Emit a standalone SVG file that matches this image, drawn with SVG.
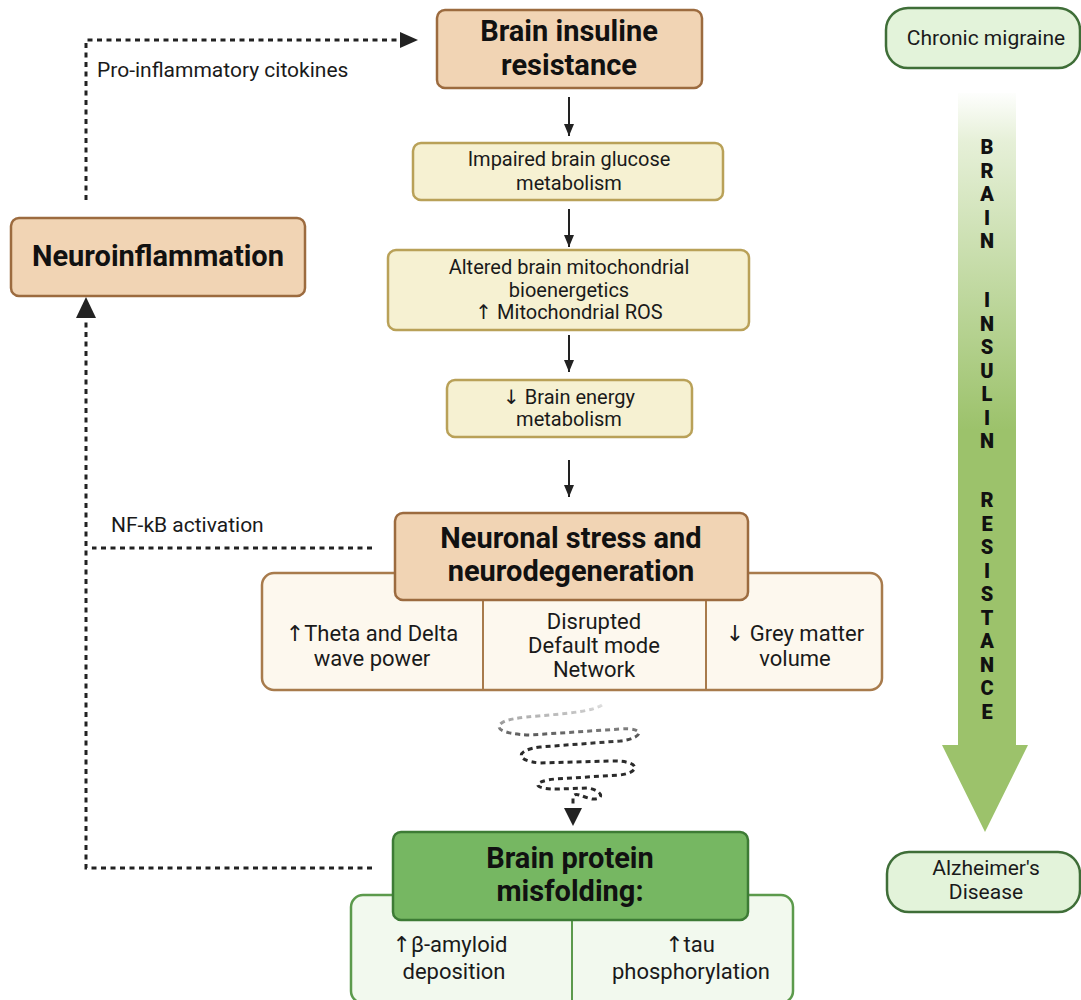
<svg xmlns="http://www.w3.org/2000/svg" width="1081" height="1000" viewBox="0 0 1081 1000">
<style>
  .title{font-family:Roboto,"Liberation Sans",sans-serif;font-weight:700;font-size:29px;fill:#111;text-anchor:middle}
  .body{font-family:Roboto,"Liberation Sans",sans-serif;font-size:20px;fill:#1a1a1a;text-anchor:middle}
  .sub{font-family:Roboto,"Liberation Sans",sans-serif;font-size:22px;fill:#1a1a1a;text-anchor:middle}
  .lbl{font-family:Roboto,"Liberation Sans",sans-serif;font-size:21px;fill:#1a1a1a}
  .vert{font-family:Roboto,"Liberation Sans",sans-serif;font-weight:900;font-size:20px;fill:#111;text-anchor:middle}
  .ar{font-family:"DejaVu Sans",sans-serif;fill:#1a1a1a}
  .tan{fill:#f1d4b4;stroke:#9c6b3f;stroke-width:2.5}
  .yel{fill:#f6f1d2;stroke:#b9a158;stroke-width:2.5}
  .cream{fill:#fdf8ee;stroke:#a87b4c;stroke-width:2.5}
  .grn{fill:#76b762;stroke:#3d7b35;stroke-width:2.5}
  .lgrn{fill:#f2f9ee;stroke:#5c9a4c;stroke-width:2.5}
  .pill{fill:#e3f3da;stroke:#3f6e38;stroke-width:2.5}
  .dash{fill:none;stroke:#222;stroke-width:3;stroke-dasharray:5 4.5}
  .solid{fill:none;stroke:#222;stroke-width:2}
  .head{fill:#222}
</style>
<defs>
  <marker id="ah" viewBox="0 0 12 10" refX="12" refY="5" markerWidth="12" markerHeight="10" markerUnits="userSpaceOnUse" orient="auto">
    <path d="M0 0 L12 5 L0 10 Z" fill="#222"/>
  </marker>
  <linearGradient id="gArrow" gradientUnits="userSpaceOnUse" x1="0" y1="90" x2="0" y2="430">
    <stop offset="0" stop-color="#ffffff"/>
    <stop offset="0.15" stop-color="#e6f0d8"/>
    <stop offset="1" stop-color="#9cc26b"/>
  </linearGradient>
  <linearGradient id="gSpiral" gradientUnits="userSpaceOnUse" x1="0" y1="703" x2="0" y2="745">
    <stop offset="0" stop-color="#e6e6e6"/>
    <stop offset="0.45" stop-color="#a0a0a0"/>
    <stop offset="1" stop-color="#2a2a2a"/>
  </linearGradient>
</defs>
<rect width="1081" height="1000" fill="#ffffff"/>

<g id="connectors">
  <path class="dash" d="M86 200 V40 H400"/>
  <polygon class="head" points="400,32 418,40 400,48"/>
  <path class="dash" d="M372 868 H86 V318"/>
  <polygon class="head" points="76,318 86,297 96,318"/>
  <path class="dash" d="M372 548 H92"/>
  <line class="solid" x1="569" y1="97" x2="569" y2="136" marker-end="url(#ah)"/>
  <line class="solid" x1="569" y1="209" x2="569" y2="247" marker-end="url(#ah)"/>
  <line class="solid" x1="569" y1="335" x2="569" y2="372" marker-end="url(#ah)"/>
  <line class="solid" x1="569" y1="460" x2="569" y2="497" marker-end="url(#ah)"/>
  <path d="M602 705 C585 716 525 714 505 721 C492 727 500 734 530 735 L620 729 C645 727 645 738 620 741 L540 747 C515 750 515 761 540 763 L610 761 C640 760 642 772 620 775 L555 779 C528 782 535 790 560 789 L588 788 C604 791 604 800 592 799 C582 797 575 791 573 797 L573 806" fill="none" stroke="url(#gSpiral)" stroke-width="3" stroke-dasharray="5 4"/>
  <polygon class="head" points="564,808 582,808 573,826"/>
  <text class="lbl" x="97" y="77">Pro-inflammatory citokines</text>
  <text class="lbl" x="111" y="532">NF-kB activation</text>
</g>

<g id="node-insulin-resistance">
  <rect class="tan" x="437" y="10" width="265" height="78" rx="8"/>
  <text class="title" x="569" y="41">Brain insuline</text>
  <text class="title" x="569" y="75">resistance</text>
</g>

<g id="node-neuroinflammation">
  <rect class="tan" x="11" y="218" width="294" height="78" rx="8"/>
  <text class="title" x="158" y="266">Neuroinflammation</text>
</g>

<g id="node-glucose">
  <rect class="yel" x="413" y="143" width="310" height="57" rx="8"/>
  <text class="body" x="569" y="166">Impaired brain glucose</text>
  <text class="body" x="569" y="190">metabolism</text>
</g>

<g id="node-mitochondrial">
  <rect class="yel" x="388" y="250" width="361" height="80" rx="8"/>
  <text class="body" x="569" y="274">Altered brain mitochondrial</text>
  <text class="body" x="569" y="297">bioenergetics</text>
  <text class="body" x="569" y="319"><tspan class="ar">↑</tspan> Mitochondrial ROS</text>
</g>

<g id="node-energy">
  <rect class="yel" x="447" y="380" width="245" height="57" rx="8"/>
  <text class="body" x="569" y="404"><tspan class="ar">↓</tspan> Brain energy</text>
  <text class="body" x="569" y="426">metabolism</text>
</g>

<g id="node-neuronal-stress">
  <rect class="cream" x="262" y="573" width="620" height="117" rx="12"/>
  <line x1="483" y1="600" x2="483" y2="690" stroke="#a87b4c" stroke-width="2"/>
  <line x1="706" y1="600" x2="706" y2="690" stroke="#a87b4c" stroke-width="2"/>
  <rect class="tan" x="395" y="513" width="353" height="87" rx="8"/>
  <text class="title" x="571" y="548">Neuronal stress and</text>
  <text class="title" x="571" y="581">neurodegeneration</text>
  <text class="sub" x="372" y="641"><tspan class="ar">↑</tspan>Theta and Delta</text>
  <text class="sub" x="372" y="666">wave power</text>
  <text class="sub" x="594" y="629">Disrupted</text>
  <text class="sub" x="594" y="653">Default mode</text>
  <text class="sub" x="594" y="677">Network</text>
  <text class="sub" x="795" y="641"><tspan class="ar">↓</tspan> Grey matter</text>
  <text class="sub" x="795" y="666">volume</text>
</g>

<g id="node-protein-misfolding">
  <rect class="lgrn" x="351" y="895" width="442" height="108" rx="12"/>
  <line x1="572" y1="920" x2="572" y2="1000" stroke="#5c9a4c" stroke-width="2"/>
  <rect class="grn" x="393" y="832" width="355" height="88" rx="8"/>
  <text class="title" x="570" y="868">Brain protein</text>
  <text class="title" x="570" y="901">misfolding:</text>
  <text class="sub" x="450" y="952"><tspan class="ar">↑</tspan>β-amyloid</text>
  <text class="sub" x="454" y="979">deposition</text>
  <text class="sub" x="690" y="952"><tspan class="ar">↑</tspan>tau</text>
  <text class="sub" x="691" y="979">phosphorylation</text>
</g>

<g id="node-chronic-migraine">
  <rect class="pill" x="886" y="8" width="194" height="60" rx="22"/>
  <text class="sub" x="986" y="45" style="font-size:21px">Chronic migraine</text>
</g>

<g id="node-alzheimers">
  <rect class="pill" x="887" y="852" width="193" height="60" rx="22"/>
  <text class="sub" x="986" y="875" style="font-size:21px">Alzheimer's</text>
  <text class="sub" x="986" y="899" style="font-size:21px">Disease</text>
</g>

<g id="node-progression-arrow">
  <path d="M958 93 H1016 V745 H1028 L985 832 L942 745 H958 Z" fill="url(#gArrow)"/>
  <text class="vert"><tspan x="987" y="154">B</tspan><tspan x="987" y="177.5">R</tspan><tspan x="987" y="201">A</tspan><tspan x="987" y="224.5">I</tspan><tspan x="987" y="248">N</tspan></text>
  <text class="vert"><tspan x="987" y="307">I</tspan><tspan x="987" y="330.5">N</tspan><tspan x="987" y="354">S</tspan><tspan x="987" y="377.5">U</tspan><tspan x="987" y="401">L</tspan><tspan x="987" y="424.5">I</tspan><tspan x="987" y="448">N</tspan></text>
  <text class="vert"><tspan x="987" y="507">R</tspan><tspan x="987" y="530.5">E</tspan><tspan x="987" y="554">S</tspan><tspan x="987" y="577.5">I</tspan><tspan x="987" y="601">S</tspan><tspan x="987" y="624.5">T</tspan><tspan x="987" y="648">A</tspan><tspan x="987" y="671.5">N</tspan><tspan x="987" y="695">C</tspan><tspan x="987" y="718.5">E</tspan></text>
</g>
</svg>
